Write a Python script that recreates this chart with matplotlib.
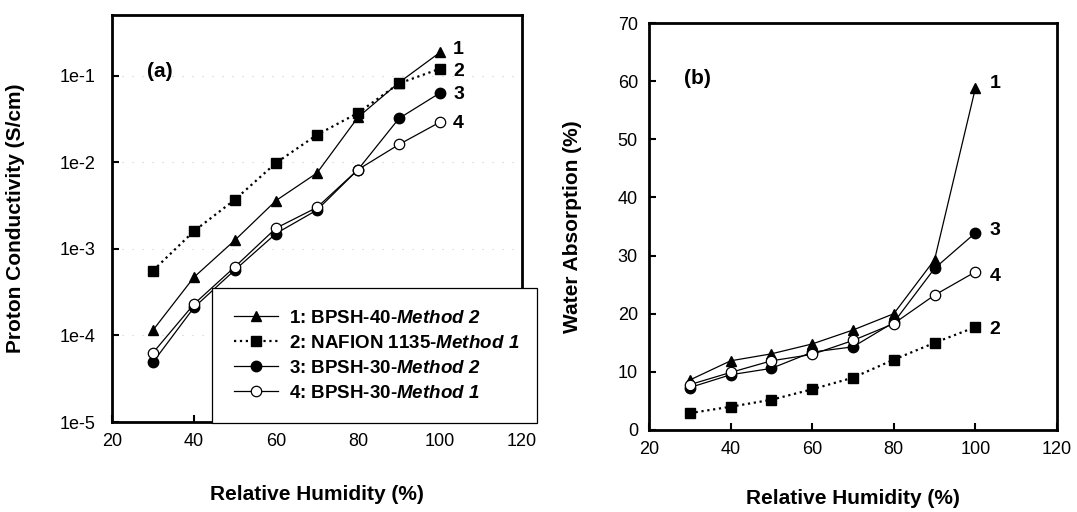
import matplotlib
matplotlib.use('Agg')
import matplotlib.pyplot as plt

plt.rcParams['font.family'] = ['Liberation Sans', 'DejaVu Sans']
plt.rcParams['mathtext.fontset'] = 'custom'
plt.rcParams['mathtext.it'] = 'Liberation Sans:italic:bold'
plt.rcParams['mathtext.rm'] = 'Liberation Sans:italic:bold'

rh = [30, 40, 50, 60, 70, 80, 90, 100]

# (a) proton conductivity, S/cm
cond_bpsh40_m2 = [1.15e-4, 4.7e-4, 1.26e-3, 3.6e-3, 7.5e-3, 3.3e-2, 8.3e-2, 0.185]
cond_nafion_m1 = [5.6e-4, 1.6e-3, 3.7e-3, 9.8e-3, 2.07e-2, 3.7e-2, 8.1e-2, 0.12]
cond_bpsh30_m2 = [4.9e-5, 2.1e-4, 5.7e-4, 1.5e-3, 2.8e-3, 8.2e-3, 3.2e-2, 6.3e-2]
cond_bpsh30_m1 = [6.3e-5, 2.3e-4, 6.2e-4, 1.73e-3, 3.0e-3, 8.2e-3, 1.6e-2, 2.9e-2]

# (b) water absorption, %
wa_bpsh40_m2 = [8.6, 11.9, 13.1, 14.8, 17.2, 20.0, 29.3, 58.8]
wa_nafion_m1 = [2.9, 4.0, 5.2, 7.0, 9.0, 12.1, 15.0, 17.7]
wa_bpsh30_m2 = [7.3, 9.5, 10.6, 13.4, 14.3, 18.5, 27.8, 33.9]
wa_bpsh30_m1 = [7.8, 9.9, 11.9, 13.0, 15.4, 18.3, 23.2, 27.2]

labels = [r'1: BPSH-40-$\mathit{Method\ 2}$',
          r'2: NAFION 1135-$\mathit{Method\ 1}$',
          r'3: BPSH-30-$\mathit{Method\ 2}$',
          r'4: BPSH-30-$\mathit{Method\ 1}$']

W, H = 1077, 512
fig = plt.figure(figsize=(W / 100, H / 100), dpi=100)
axa = fig.add_axes([112 / W, (H - 422) / H, 410 / W, 407 / H])
axb = fig.add_axes([649 / W, (H - 430) / H, 408 / W, 407 / H])


def draw(ax, s1, s2, s3, s4):
    l1, = ax.plot(rh, s1, '-', color='black', lw=0.9, marker='^', ms=7.5, mfc='black', mec='black')
    l2, = ax.plot(rh, s2, ':', color='black', lw=1.6, marker='s', ms=6.5, mfc='black', mec='black')
    l3, = ax.plot(rh, s3, '-', color='black', lw=0.9, marker='o', ms=7.5, mfc='black', mec='black')
    l4, = ax.plot(rh, s4, '-', color='black', lw=0.9, marker='o', ms=7.5, mfc='white', mec='black', mew=0.9)
    for sp in ax.spines.values():
        sp.set_linewidth(2)
    ax.set_xlim(20, 120)
    ax.set_xticks([20, 40, 60, 80, 100, 120])
    ax.tick_params(direction='in', length=5, width=1.5, labelsize=13, pad=8)
    ax.set_xlabel('Relative Humidity (%)', fontsize=15, fontweight='bold')
    return [l1, l2, l3, l4]


handles = draw(axa, cond_bpsh40_m2, cond_nafion_m1, cond_bpsh30_m2, cond_bpsh30_m1)
axa.set_yscale('log')
axa.set_ylim(1e-5, 0.5)
axa.set_yticks([1e-5, 1e-4, 1e-3, 1e-2, 1e-1])
axa.set_yticklabels(['1e-5', '1e-4', '1e-3', '1e-2', '1e-1'])
axa.minorticks_off()
axa.tick_params(axis='y', pad=12)
axa.grid(axis='y', which='major', ls=(0, (1, 8)), color='#cccccc', lw=0.8)
axa.set_ylabel('Proton Conductivity (S/cm)', fontsize=15, fontweight='bold')
axa.yaxis.set_label_coords((25 - 112) / 410, 0.5)
axa.xaxis.set_label_coords(0.5, (422 - 485) / 407)
axa.text(0.085, 0.86, '(a)', transform=axa.transAxes, fontsize=15, fontweight='bold', va='center')
axa.text(103.2, 0.2, '1', fontsize=14, fontweight='bold', va='center')
axa.text(103.2, 0.111, '2', fontsize=14, fontweight='bold', va='center')
axa.text(103.2, 0.060, '3', fontsize=14, fontweight='bold', va='center')
axa.text(103.2, 0.028, '4', fontsize=14, fontweight='bold', va='center')

leg = fig.legend(handles, labels, loc='upper left',
                 bbox_to_anchor=(212 / W, (H - 288) / H, 325 / W, 0), mode='expand',
                 frameon=True, fancybox=False, edgecolor='black', framealpha=1,
                 prop={'weight': 'bold', 'size': 13.5}, handlelength=2.35,
                 handletextpad=0.6, borderpad=1.15, labelspacing=0.42, borderaxespad=0)
leg.get_frame().set_linewidth(0.9)
leg.set_zorder(5)

draw(axb, wa_bpsh40_m2, wa_nafion_m1, wa_bpsh30_m2, wa_bpsh30_m1)
axb.set_ylim(0, 70)
axb.set_yticks(range(0, 71, 10))
axb.set_ylabel('Water Absorption (%)', fontsize=15, fontweight='bold')
axb.yaxis.set_label_coords((582 - 649) / 408, 0.5)
axb.xaxis.set_label_coords(0.5, (430 - 489) / 407)
axb.text(0.085, 0.864, '(b)', transform=axb.transAxes, fontsize=15, fontweight='bold', va='center')
axb.text(103.5, 59.6, '1', fontsize=14, fontweight='bold', va='center')
axb.text(103.5, 34.3, '3', fontsize=14, fontweight='bold', va='center')
axb.text(103.5, 26.4, '4', fontsize=14, fontweight='bold', va='center')
axb.text(103.5, 17.2, '2', fontsize=14, fontweight='bold', va='center')

fig.savefig('out.png', dpi=100)
